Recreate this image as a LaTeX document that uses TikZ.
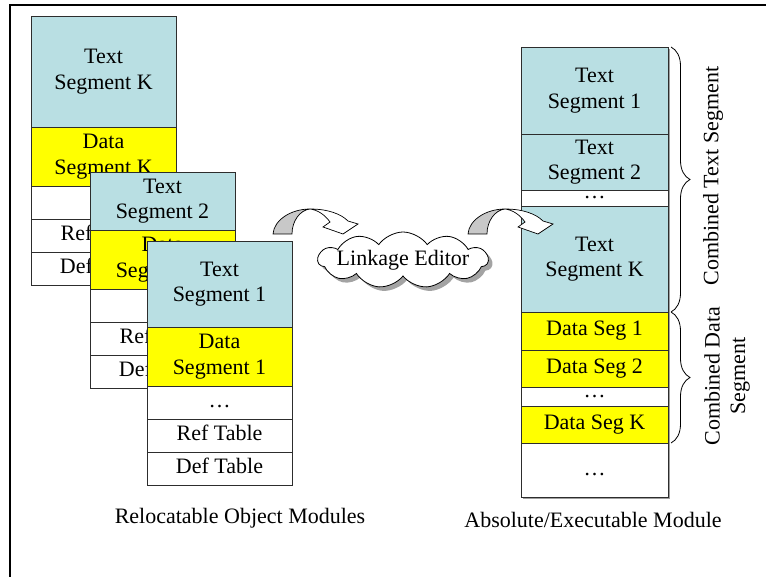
\documentclass[tikz,border=0pt]{standalone}
\usepackage{fontspec}
\setmainfont{Liberation Serif}
\usetikzlibrary{shapes.symbols,decorations.pathreplacing,shadows}

\definecolor{tsegblue}{RGB}{185,223,227}
\definecolor{dsegyellow}{RGB}{255,255,0}
\definecolor{cellline}{RGB}{45,45,45}
\definecolor{arrowgrey}{RGB}{200,200,200}

\tikzset{
  bigfont/.style={font=\fontsize{22}{25.5}\selectfont},
  cell/.style={draw=cellline, line width=0.9pt, inner sep=0pt, outer sep=0pt,
               anchor=north west, align=center, bigfont},
  tcell/.style={cell, fill=tsegblue},
  dcell/.style={cell, fill=dsegyellow},
  ecell/.style={cell, fill=white},
  objw/.style={minimum width=145pt},
  exew/.style={minimum width=147pt},
  bracedraw/.style={decorate, decoration={brace, amplitude=19pt}, line width=0.8pt},
  pics/curvedarrow/.style={code={
    % shaded rising part of the block arrow
    \draw[line width=0.7pt, fill=arrowgrey]
      (0,0) .. controls (1,-14) and (18,-25) .. (37,-25)
            .. controls (27,-24) and (19,-13) .. (19,0) -- cycle;
    % descending part with the head
    \draw[line width=0.7pt, fill=white, line join=miter]
      (37,-25) .. controls (55,-25) and (68,-20) .. (75,-13)
      -- (85,-10) -- (70,0) -- (50,-7) -- (57,-12)
      .. controls (52,-19) and (45,-24) .. (37,-25) -- cycle;
  }}
}

\begin{document}
\begin{tikzpicture}[x=1pt, y=-1pt]
\useasboundingbox (0,0) rectangle (766,577);

% outer frame
\draw[line width=2pt] (10,577) -- (10,5) -- (766,5);

% ---- object module K (back)
\node[tcell, objw, minimum height=111pt] (kText) at (31,16) {Text\\Segment K};
\node[dcell, objw, minimum height=59pt] (kData) at (kText.south west) {Data\\Segment K};
\node[ecell, objw, minimum height=33pt] (kDots) at (kData.south west) {\strut …};
\node[ecell, objw, minimum height=33pt] (kRef) at (kDots.south west) {\strut Ref Table};
\node[ecell, objw, minimum height=33pt] (kDef) at (kRef.south west) {\strut Def Table};

% ---- object module 2
\node[tcell, objw, minimum height=58pt] (mText) at (90,172) {Text\\Segment 2};
\node[dcell, objw, minimum height=59pt] (mData) at (mText.south west) {Data\\Segment 2};
\node[ecell, objw, minimum height=33pt] (mDots) at (mData.south west) {\strut …};
\node[ecell, objw, minimum height=33pt] (mRef) at (mDots.south west) {\strut Ref Table};
\node[ecell, objw, minimum height=33pt] (mDef) at (mRef.south west) {\strut Def Table};

% ---- object module 1 (front)
\node[tcell, objw, minimum height=86pt] (oText) at (147,241) {Text\\Segment 1};
\node[dcell, objw, minimum height=59pt] (oData) at (oText.south west) {Data\\Segment 1};
\node[ecell, objw, minimum height=33pt] (oDots) at (oData.south west) {\strut …};
\node[ecell, objw, minimum height=33pt] (oRef) at (oDots.south west) {\strut Ref Table};
\node[ecell, objw, minimum height=33pt] (oDef) at (oRef.south west) {\strut Def Table};

\node[bigfont] (objCaption) at (240,518) {Relocatable Object Modules};

% ---- executable module
\fill[gray!75] (523,49) rectangle (670,499);
\node[tcell, exew, minimum height=87pt] (eT1) at (521,47) {Text\\Segment 1};
\node[tcell, exew, minimum height=56pt] (eT2) at (eT1.south west) {Text\\Segment 2};
\node[ecell, exew, minimum height=16pt] (eTDots) at (eT2.south west) {…};
\node[tcell, exew, minimum height=106pt] (eTK) at (eTDots.south west) {Text\\Segment K};
\node[dcell, exew, minimum height=38pt] (eD1) at (eTK.south west) {Data Seg 1};
\node[dcell, exew, minimum height=37pt] (eD2) at (eD1.south west) {Data Seg 2};
\node[ecell, exew, minimum height=19pt] (eDDots) at (eD2.south west) {…};
\node[dcell, exew, minimum height=37pt] (eDK) at (eDDots.south west) {Data Seg K};
\node[ecell, exew, minimum height=54pt] (eRest) at (eDK.south west) {\strut …};

\node[bigfont] (exeCaption) at (593,520) {Absolute/Executable Module};

% ---- braces and their labels
\coordinate (textBraceTop) at (671,47);
\coordinate (textBraceBot) at (671,312);
\coordinate (dataBraceBot) at (671,443);
\draw[bracedraw] (textBraceTop) -- (textBraceBot);
\draw[bracedraw] (textBraceBot) -- (dataBraceBot);
\node[bigfont, rotate=90] (textLabel) at (713,176) {Combined Text Segment};
\node[bigfont, rotate=90, align=center] (dataLabel) at (727,376) {Combined Data\\Segment};

% ---- linkage editor cloud and curved arrows
\pic at (273,234) {curvedarrow};
\pic at (468,234) {curvedarrow};
\node[cloud, cloud puffs=11, cloud puff arc=110, aspect=3, draw, line width=0.8pt,
      fill=white, minimum width=170pt, minimum height=56pt, inner sep=0pt,
      drop shadow={shadow xshift=4pt, shadow yshift=-4pt, fill=black!60, opacity=0.6}]
      (editorCloud) at (403,260) {};
\node[bigfont] (editorText) at (editorCloud.center) {Linkage Editor};
\end{tikzpicture}
\end{document}
